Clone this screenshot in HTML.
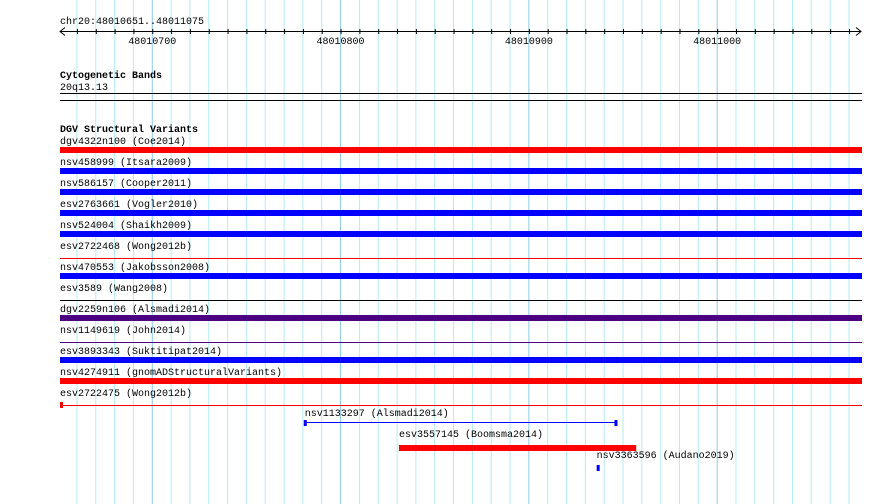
<!DOCTYPE html>
<html><head><meta charset="utf-8"><style>
html,body{margin:0;padding:0;background:#fff;}
svg{display:block;font-family:"Liberation Mono",monospace;font-size:10px;}
</style></head><body>
<svg id="c" width="890" height="504" viewBox="0 0 890 504" xmlns="http://www.w3.org/2000/svg"></svg>
<script>
const viewStart = 48010651, viewEnd = 48011075;
const tickLabels = [48010700, 48010800, 48010900, 48011000];
const names = ["dgv4322n100 (Coe2014)","nsv458999 (Itsara2009)","nsv586157 (Cooper2011)","esv2763661 (Vogler2010)","nsv524004 (Shaikh2009)","esv2722468 (Wong2012b)","nsv470553 (Jakobsson2008)","esv3589 (Wang2008)","dgv2259n106 (Alsmadi2014)","nsv1149619 (John2014)","esv3893343 (Suktitipat2014)","nsv4274911 (gnomADStructuralVariants)","esv2722475 (Wong2012b)"];
const colors = ["#ff0000","#0000ff","#0000ff","#0000ff","#0000ff","#ff0000","#0000ff","#000000","#4b0082","#4b0082","#0000ff","#ff0000","#ff0000"];
const thick = [1,1,1,1,1,0,1,0,1,0,1,1,0];
const extra = [
 {name:"nsv1133297 (Alsmadi2014)", start:48010781, end:48010946, color:"#0000ff", type:"line"},
 {name:"esv3557145 (Boomsma2014)", start:48010831, end:48010957, color:"#ff0000", type:"bar"},
 {name:"nsv3363596 (Audano2019)", start:48010936, end:48010938, color:"#0000ff", type:"small"}
];
const svg = document.getElementById('c');
const NS = "http://www.w3.org/2000/svg";
const x0 = 60, scale = 1.883;
const X = bp => x0 + (bp - viewStart) * scale;
function mk(tag, attrs, text){const e=document.createElementNS(NS,tag);for(const k in attrs)e.setAttribute(k,attrs[k]);if(text!==undefined)e.textContent=text;svg.appendChild(e);return e;}
// grid
for(let bp=48010660; bp<=viewEnd; bp+=10){
  const g=mk('line',{x1:X(bp),x2:X(bp),y1:0,y2:504,stroke: bp%100===0?'#8ccbe8':'#b4ecf2','stroke-width':1});
  
  
}
// ruler
let t=mk('text',{x:60,y:24},'chr20:48010651..48011075');

let r=mk('line',{x1:60,x2:861,y1:31.5,y2:31.5,stroke:'#000'});

mk('path',{d:'M65 27.5 L60 31.5 L65 35.5',fill:'none',stroke:'#000'});
mk('path',{d:'M856 27.5 L861 31.5 L856 35.5',fill:'none',stroke:'#000'});
for(let bp=48010660; bp<=48011070; bp+=10){
  const tk=mk('line',{x1:X(bp)+0.5,x2:X(bp)+0.5,y1:29,y2:34,stroke:'#000'});
  
}
tickLabels.forEach(v=>{
  const l=mk('text',{x:X(v),y:44,'text-anchor':'middle'},String(v));
  
});
// cytobands
let ct=mk('text',{x:60,y:78,'font-weight':'bold'},'Cytogenetic Bands');

let cb=mk('text',{x:60,y:90},'20q13.13');

mk('line',{x1:60,x2:862,y1:93.5,y2:93.5,stroke:'#000'});
mk('line',{x1:60,x2:862,y1:100.5,y2:100.5,stroke:'#000'});
// DGV
let dt=mk('text',{x:60,y:132,'font-weight':'bold'},'DGV Structural Variants');

names.forEach((n,i)=>{
  const y=144+i*21;
  const lb=mk('text',{x:60,y:y},n);
  
  let m;
  if(thick[i]) m=mk('rect',{x:60,y:y+3,width:802,height:6,fill:colors[i]});
  else m=mk('rect',{x:60,y:y+9,width:802,height:1,fill:colors[i]});
  
  if(i===names.length-1){const s=mk('rect',{x:60,y:y+6,width:3,height:6,fill:colors[i]});}
});
extra.forEach((f,j)=>{
  const y=416+j*21;
  const xs=X(f.start), xe=X(f.end);
  const lb=mk('text',{x:xs,y:y},f.name);
  
  let m;
  if(f.type==='line'){
    m=mk('rect',{x:xs,y:y+6,width:xe-xs,height:1,fill:f.color});
    mk('rect',{x:xs-1,y:y+4,width:3,height:6,fill:f.color});
    mk('rect',{x:xe-1,y:y+4,width:3,height:6,fill:f.color});
  } else if(f.type==='bar'){
    m=mk('rect',{x:xs,y:y+8,width:xe-xs,height:6,fill:f.color});
  } else {
    m=mk('rect',{x:xs,y:y+7,width:3,height:6,fill:f.color});
  }
  
});
</script>
</body></html>
